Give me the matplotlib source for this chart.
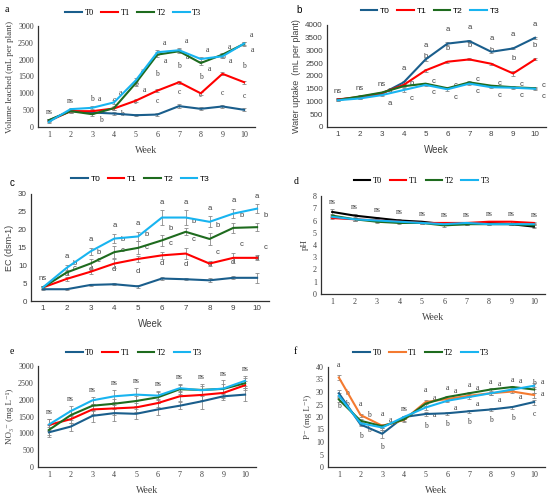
import numpy as np
import matplotlib
matplotlib.use("Agg")
import matplotlib.pyplot as plt
from matplotlib.lines import Line2D

weeks = np.arange(1, 11)
names = ["T0", "T1", "T2", "T3"]

# a: volume leached
a_vals = {
    "T0": [200, 480, 430, 400, 350, 370, 620, 540, 610, 510],
    "T1": [180, 470, 470, 550, 780, 1080, 1330, 1000, 1580, 1330],
    "T2": [200, 470, 380, 560, 1300, 2150, 2250, 1900, 2150, 2470],
    "T3": [150, 530, 570, 730, 1380, 2220, 2280, 2020, 2100, 2480],
}
a_err = {
    "T0": [30, 40, 40, 40, 30, 40, 50, 40, 40, 40],
    "T1": [30, 40, 40, 50, 40, 40, 40, 40, 40, 40],
    "T2": [30, 40, 40, 50, 80, 80, 60, 60, 60, 50],
    "T3": [30, 40, 50, 60, 80, 80, 60, 60, 60, 50],
}
a_letters = {
    "T0": ["", "", "b", "c", "c", "c", "c", "c", "c", "c"],
    "T1": ["", "", "", "", "b", "b", "b", "b", "b", "b"],
    "T2": ["", "", "b", "b", "a", "a", "a", "a", "a", "a"],
    "T3": ["", "", "a", "a", "a", "a", "a", "a", "a", "a"],
}
a_ns = ["ns", "ns", "", "", "", "", "", "", "", ""]

# b: water uptake
b_vals = {
    "T0": [1080, 1150, 1300, 1750, 2650, 3270, 3370, 2950, 3080, 3500],
    "T1": [1080, 1180, 1330, 1650, 2220, 2560, 2650, 2480, 2100, 2650],
    "T2": [1060, 1200, 1350, 1600, 1700, 1520, 1750, 1620, 1560, 1520],
    "T3": [1050, 1120, 1250, 1450, 1650, 1480, 1700, 1560, 1540, 1500],
}
b_err = {
    "T0": [40, 40, 40, 50, 50, 60, 50, 40, 40, 40],
    "T1": [40, 40, 40, 50, 60, 40, 40, 40, 90, 40],
    "T2": [40, 40, 40, 40, 40, 40, 40, 40, 40, 40],
    "T3": [40, 40, 40, 60, 40, 60, 40, 40, 40, 40],
}
b_letters = {
    "T0": ["", "", "", "a", "a", "a", "a", "a", "a", "a"],
    "T1": ["", "", "", "", "b", "b", "b", "b", "b", "b"],
    "T2": ["", "", "a", "b", "c", "c", "c", "c", "c", "c"],
    "T3": ["", "", "a", "c", "c", "c", "c", "c", "c", "c"],
}
b_ns = ["ns", "ns", "ns", "", "", "", "", "", "", ""]

# c: EC
c_vals = {
    "T0": [3.3, 3.3, 4.5, 4.7, 4.1, 6.3, 6.1, 5.8, 6.5, 6.5],
    "T1": [3.8, 6.2, 8.2, 10.5, 11.8, 12.8, 13.3, 10.5, 12.1, 12.1],
    "T2": [3.8, 8.0, 10.5, 13.7, 14.9, 17.0, 19.4, 17.4, 20.5, 20.7],
    "T3": [3.8, 9.3, 13.9, 17.5, 18.1, 23.4, 23.4, 22.2, 24.5, 25.9],
}
c_err = {
    "T0": [0.3, 0.3, 0.3, 0.3, 0.4, 0.3, 0.3, 0.6, 0.4, 1.4],
    "T1": [0.4, 0.5, 0.7, 1.3, 0.8, 0.9, 1.5, 0.7, 1.4, 0.7],
    "T2": [0.5, 0.7, 1.2, 1.6, 1.8, 1.5, 1.0, 1.8, 1.5, 1.2],
    "T3": [0.5, 0.8, 1.0, 1.3, 1.2, 2.0, 2.0, 1.5, 1.3, 1.2],
}
c_letters = {
    "T0": ["", "d", "d", "d", "d", "d", "d", "d", "d", "d"],
    "T1": ["", "c", "c", "c", "c", "c", "c", "c", "c", "c"],
    "T2": ["", "b", "b", "b", "b", "b", "b", "b", "b", "b"],
    "T3": ["", "a", "a", "a", "a", "a", "a", "a", "a", "a"],
}
c_ns = ["ns", "", "", "", "", "", "", "", "", ""]

# d: pH
d_vals = {
    "T0": [6.7, 6.4, 6.2, 6.0, 5.9, 5.7, 5.7, 5.8, 5.7, 5.5],
    "T1": [6.2, 6.1, 6.0, 5.9, 5.8, 5.8, 5.8, 5.9, 5.9, 5.8],
    "T2": [6.4, 6.1, 5.9, 5.8, 5.8, 5.6, 5.7, 5.7, 5.7, 5.6],
    "T3": [6.3, 6.1, 6.0, 5.9, 5.8, 5.7, 5.8, 5.7, 5.7, 5.7],
}
d_err = {
    "T0": [0.25, 0.15, 0.1, 0.1, 0.1, 0.1, 0.1, 0.1, 0.1, 0.15],
    "T1": [0.1, 0.1, 0.1, 0.1, 0.1, 0.1, 0.1, 0.1, 0.1, 0.1],
    "T2": [0.15, 0.1, 0.1, 0.1, 0.1, 0.1, 0.1, 0.1, 0.1, 0.1],
    "T3": [0.1, 0.1, 0.1, 0.1, 0.1, 0.1, 0.1, 0.1, 0.1, 0.1],
}
d_ns = ["ns"] * 10

# e: nitrate
e_vals = {
    "T0": [1030, 1200, 1520, 1600, 1580, 1710, 1820, 1950, 2100, 2150],
    "T1": [1250, 1420, 1710, 1740, 1770, 1900, 2100, 2140, 2200, 2430],
    "T2": [1100, 1540, 1820, 1880, 1960, 2070, 2310, 2290, 2320, 2490],
    "T3": [1260, 1660, 1980, 2100, 2150, 2120, 2340, 2280, 2330, 2560],
}
e_err = {
    "T0": [150, 120, 170, 230, 150, 180, 100, 220, 100, 200],
    "T1": [170, 120, 150, 200, 140, 130, 150, 140, 140, 130],
    "T2": [150, 150, 160, 150, 140, 170, 130, 170, 150, 140],
    "T3": [170, 140, 100, 200, 200, 140, 120, 120, 240, 140],
}
e_ns = ["ns"] * 10

# f: phosphorus
f_vals = {
    "T0": [29.5, 17.0, 13.3, 20.0, 21.2, 21.5, 22.3, 23.0, 24.0, 26.0],
    "T1": [35.8, 20.8, 16.5, 18.8, 26.0, 27.2, 28.5, 29.5, 30.2, 28.8],
    "T2": [27.0, 18.5, 16.3, 19.0, 25.3, 28.0, 29.5, 31.0, 32.0, 31.0],
    "T3": [28.5, 17.5, 15.8, 20.0, 23.8, 26.5, 28.0, 29.5, 31.0, 32.5],
}
f_err = {
    "T0": [1.2, 0.6, 1.5, 0.6, 0.8, 0.5, 0.5, 0.5, 0.6, 1.0],
    "T1": [1.0, 0.6, 0.8, 0.6, 0.8, 0.6, 0.6, 0.6, 0.6, 1.0],
    "T2": [1.0, 0.6, 0.8, 0.6, 0.8, 0.6, 0.6, 0.6, 0.6, 1.2],
    "T3": [1.0, 0.6, 0.8, 0.6, 0.8, 0.6, 0.6, 0.6, 0.6, 1.2],
}
f_letters = {
    "T0": ["b", "b", "b", "", "b", "b", "b", "b", "b", "c"],
    "T1": ["a", "a", "a", "", "a", "a", "a", "a", "a", "b"],
    "T2": ["b", "b", "a", "", "a", "a", "a", "a", "a", "a"],
    "T3": ["b", "b", "", "", "a", "a", "a", "a", "a", "a"],
}
f_ns = ["", "", "", "ns", "", "", "", "", "", ""]

SERIF = ["Liberation Serif", "DejaVu Serif"]
SANS = ["Liberation Sans", "DejaVu Sans"]

base_colors = {"T0": "#1a5e8c", "T1": "#ff0000", "T2": "#1e6b1e", "T3": "#18b4f0"}

fig = plt.figure(figsize=(5.5, 4.99), dpi=100)


def box(x0, x1, y0, y1):
    return [x0 / 550, 1 - y1 / 499, (x1 - x0) / 550, (y1 - y0) / 499]


def panel(rect, vals, err, letters, ns, ymax, ystep, ylabel, tag, font,
          colors, offsets, leg_x, leg_y, tag_xy):
    ax = fig.add_axes(rect)
    for n in names:
        v = np.array(vals[n])
        ax.errorbar(weeks, v, yerr=err[n], color=colors[n], lw=1.5,
                    ecolor="#8a8a8a", elinewidth=0.6, capsize=1.4,
                    capthick=0.6, zorder=3)
        if letters is not None:
            dx, dy = offsets[n]
            for w, val, e, lt in zip(weeks, v, err[n], letters[n]):
                if lt:
                    sgn = 1 if dy >= 0 else -1
                    ax.annotate(lt, (w, val + sgn * e), xytext=(dx, dy),
                                textcoords="offset points", ha="center",
                                va="center", fontsize=5.5, family=font,
                                color="#404040")
    top = np.max([np.array(vals[n]) + np.array(err[n]) for n in names], axis=0)
    for w, t, s in zip(weeks, top, ns):
        if s:
            ax.annotate(s, (w, t), xytext=(0, 5), textcoords="offset points",
                        ha="center", va="center", fontsize=5.5, family=font,
                        color="#404040")
    ax.set_xlim(0.5, 10.5)
    ax.set_ylim(0, ymax)
    ax.set_xticks(weeks)
    ax.set_yticks(np.arange(0, ymax + ystep / 2, ystep))
    ax.tick_params(length=0, labelsize=5.8, pad=3, colors="#404040")
    for lab in ax.get_xticklabels() + ax.get_yticklabels():
        lab.set_family(font)
    for s in ["top", "right"]:
        ax.spines[s].set_visible(False)
    for s in ["left", "bottom"]:
        ax.spines[s].set_color("#303030")
        ax.spines[s].set_linewidth(0.9)
    ax.set_xlabel("Week", fontsize=7, family=font, labelpad=5, color="#404040")
    ax.set_ylabel(ylabel, fontsize=6.5, family=font, labelpad=3, color="#404040")
    handles = [Line2D([], [], color=colors[n], lw=1.5) for n in names]
    ax.legend(handles, names, loc="center", bbox_to_anchor=(leg_x, leg_y),
              ncol=4, frameon=False, handlelength=2.0, columnspacing=0.9,
              handletextpad=0.3, prop={"family": font, "size": 6})
    fig.text(tag_xy[0] / 550, 1 - tag_xy[1] / 499, tag, fontsize=7,
             family=font, ha="left", va="center")
    return ax


panel(box(38, 255, 26, 127), a_vals, a_err, a_letters, a_ns, 3000, 500,
      "Volume leached (mL per plant)", "a", SERIF, base_colors,
      {"T0": (0, 9), "T1": (0, 11), "T2": (6, -3), "T3": (5, 5)},
      0.44, 1.13, (5, 10))

panel(box(327, 546, 25, 127), b_vals, b_err, b_letters, b_ns, 4000, 500,
      "Water uptake  (mL per plant)", "b", SANS, base_colors,
      {"T0": (0, 9), "T1": (0, 9), "T2": (6, 1), "T3": (6, -5)},
      0.47, 1.14, (296, 10))

panel(box(31, 269, 194, 301), c_vals, c_err, c_letters, c_ns, 30, 5,
      "EC (dsm-1)", "c", SANS, base_colors,
      {"T0": (0, 10), "T1": (6, 6), "T2": (6, 5), "T3": (0, 6)},
      0.46, 1.14, (10, 183))

d_colors = dict(base_colors, T0="#000000")
panel(box(321, 545, 196, 294), d_vals, d_err, None, d_ns, 8, 1,
      "pH", "d", SERIF, d_colors, None, 0.45, 1.15, (294, 181))

panel(box(38, 256, 366, 467), e_vals, e_err, None, e_ns, 3000, 500,
      "NO₃⁻ (mg L⁻¹)", "e", SERIF, base_colors, None, 0.44, 1.13,
      (10, 352))

f_colors = dict(base_colors, T1="#f47a30")
panel(box(328, 545, 367, 467), f_vals, f_err, f_letters, f_ns, 40, 5,
      "P⁻ (mg L⁻¹)", "f", SERIF, f_colors,
      {"T0": (0, -7), "T1": (0, 7), "T2": (6, 3), "T3": (6, -4)},
      0.43, 1.14, (294, 352))

fig.savefig("out.png", dpi=100)
